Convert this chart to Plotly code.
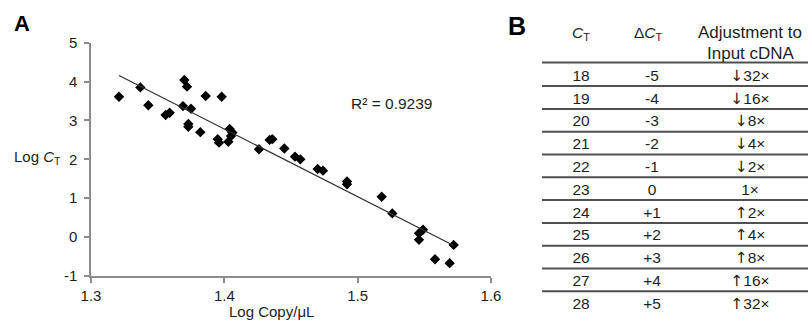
import numpy as np
import plotly.graph_objects as go

# ---------------- Data ----------------
log_copy = [1.321, 1.337, 1.343, 1.356, 1.359, 1.370, 1.372, 1.369, 1.375, 1.373,
            1.373, 1.382, 1.386, 1.398, 1.395, 1.396, 1.404, 1.406, 1.403, 1.405,
            1.426, 1.434, 1.436, 1.445, 1.453, 1.457, 1.470, 1.474, 1.492, 1.492,
            1.518, 1.526, 1.546, 1.549, 1.546, 1.572, 1.558, 1.569]
log_ct = [3.61, 3.85, 3.39, 3.14, 3.20, 4.04, 3.87, 3.37, 3.30, 2.91,
          2.84, 2.70, 3.63, 3.61, 2.52, 2.43, 2.78, 2.69, 2.45, 2.60,
          2.26, 2.50, 2.52, 2.28, 2.07, 2.00, 1.75, 1.71, 1.43, 1.36,
          1.04, 0.61, 0.10, 0.19, -0.07, -0.20, -0.57, -0.67]
r2_text = "R² = 0.9239"

x_ticks = [1.3, 1.4, 1.5, 1.6]
y_ticks = [-1, 0, 1, 2, 3, 4, 5]

ct_values = ["18", "19", "20", "21", "22", "23", "24", "25", "26", "27", "28"]
delta_ct = ["-5", "-4", "-3", "-2", "-1", "0", "+1", "+2", "+3", "+4", "+5"]
adj_arrow = ["↓", "↓", "↓", "↓", "↓", "", "↑", "↑", "↑", "↑", "↑"]
adj_fold = ["32×", "16×", "8×", "4×", "2×", "1×", "2×", "4×", "8×", "16×", "32×"]
header_ct = "<i>C</i><sub>T</sub>"
header_dct = "Δ<i>C</i><sub>T</sub>"
header_adj = ["Adjustment to", "Input cDNA"]

# ---------------- Layout constants ----------------
W, H = 812, 321
FONT = "Arial, Liberation Sans, Helvetica, sans-serif"
ARROW_FONT = "DejaVu Sans"
TXT = "#1e1e1e"
AXC = "#8c8c8c"

fig = go.Figure()

# Scatter points
fig.add_trace(go.Scatter(
    x=log_copy, y=log_ct, mode="markers",
    marker=dict(symbol="diamond", size=8, color="#000000"),
    xaxis="x", yaxis="y", showlegend=False, hoverinfo="skip"))

# Linear trend line fitted from the data
slope, intercept = np.polyfit(log_copy, log_ct, 1)
xl = np.array([min(log_copy), max(log_copy)])
fig.add_trace(go.Scatter(
    x=xl, y=slope * xl + intercept, mode="lines",
    line=dict(color="#333333", width=1.3),
    xaxis="x", yaxis="y", showlegend=False, hoverinfo="skip"))

# ---------------- Table (panel B) on hidden pixel-like axes ----------------
row_idx = list(range(len(ct_values)))
ROW_H = 22.8
ROW0 = 77.0
col_ct, col_dct, col_adj = 581, 652, 750

adjustment = [
    (f'<span style="font-family:{ARROW_FONT}">{a}</span>' if a else "") + f
    for a, f in zip(adj_arrow, adj_fold)
]

for col_x, vals in [(col_ct, ct_values), (col_dct, delta_ct), (col_adj, adjustment)]:
    fig.add_trace(go.Scatter(
        x=[col_x] * len(vals), y=row_idx, mode="text", text=vals,
        textposition="middle center",
        textfont=dict(family=FONT, size=15.5, color=TXT),
        xaxis="x2", yaxis="y2", showlegend=False, hoverinfo="skip",
        cliponaxis=False))

def ypix(p):
    return (p - ROW0) / ROW_H

shapes = []
line_rows = [ypix(62.5)] + [k + 0.4 for k in range(len(ct_values) - 1)]
for yv in line_rows:
    shapes.append(dict(type="line", xref="x2", yref="y2", x0=542, x1=808,
                       y0=yv, y1=yv, line=dict(color="#505050", width=2)))

annotations = [
    dict(text=header_ct, x=col_ct, y=ypix(33), xref="x2", yref="y2",
         showarrow=False, font=dict(family=FONT, size=15.5, color=TXT)),
    dict(text=header_dct, x=648, y=ypix(33), xref="x2", yref="y2",
         showarrow=False, font=dict(family=FONT, size=15.5, color=TXT)),
    dict(text=header_adj[0], x=750, y=ypix(32), xref="x2", yref="y2",
         showarrow=False, font=dict(family=FONT, size=17, color=TXT)),
    dict(text=header_adj[1], x=751, y=ypix(53), xref="x2", yref="y2",
         showarrow=False, font=dict(family=FONT, size=17, color=TXT)),
    # panel letters
    dict(text="<b>A</b>", x=12, y=ypix(23), xref="x2", yref="y2", xanchor="left",
         showarrow=False, font=dict(family=FONT, size=22, color="#000")),
    dict(text="<b>B</b>", x=506, y=ypix(26), xref="x2", yref="y2", xanchor="left",
         showarrow=False, font=dict(family=FONT, size=25, color="#000")),
    # axis titles
    dict(text="Log <i>C</i><sub>T</sub>", x=12, y=ypix(157), xref="x2", yref="y2",
         xanchor="left", showarrow=False, font=dict(family=FONT, size=15, color=TXT)),
    dict(text="Log Copy/μL", x=271, y=ypix(311), xref="x2", yref="y2",
         showarrow=False, font=dict(family=FONT, size=15, color=TXT)),
    dict(text=r2_text, x=391, y=ypix(103), xref="x2", yref="y2",
         showarrow=False, font=dict(family=FONT, size=15.5, color=TXT)),
]

fig.update_layout(
    template="none",
    width=W, height=H, autosize=False,
    margin=dict(l=0, r=0, t=0, b=0, pad=0),
    paper_bgcolor="white", plot_bgcolor="rgba(0,0,0,0)",
    font=dict(family=FONT, size=15, color=TXT),
    showlegend=False,
    xaxis=dict(domain=[91 / W, 491 / W], range=[1.3, 1.6], tickvals=x_ticks,
               ticktext=[f"{v:.1f}" for v in x_ticks], automargin=False,
               showline=True, linecolor=AXC, linewidth=1.5, ticks="outside",
               ticklen=5, tickwidth=1.5, tickcolor=AXC, showgrid=False,
               zeroline=False, anchor="y", tickfont=dict(size=15, color=TXT)),
    yaxis=dict(domain=[45 / H, (H - 42.7) / H], range=[-1, 5], tickvals=y_ticks,
               ticktext=[str(v) for v in y_ticks], automargin=False,
               showline=True, linecolor=AXC, linewidth=1.5, ticks="outside",
               ticklen=5, tickwidth=1.5, tickcolor=AXC, showgrid=False,
               zeroline=False, anchor="x", tickfont=dict(size=15, color=TXT),
               ticklabelstandoff=4),
    xaxis2=dict(domain=[0, 1], range=[0, W], visible=False, anchor="y2",
                automargin=False),
    yaxis2=dict(domain=[0, 1], range=[ypix(H), ypix(0)], visible=False, anchor="x2",
                automargin=False),
    shapes=shapes,
    annotations=annotations,
)

fig.write_html(
    "out.html",
    config={"displayModeBar": False},
    post_script="document.body.style.margin='0';document.body.style.padding='0';"
                "document.body.style.overflow='hidden';",
)
